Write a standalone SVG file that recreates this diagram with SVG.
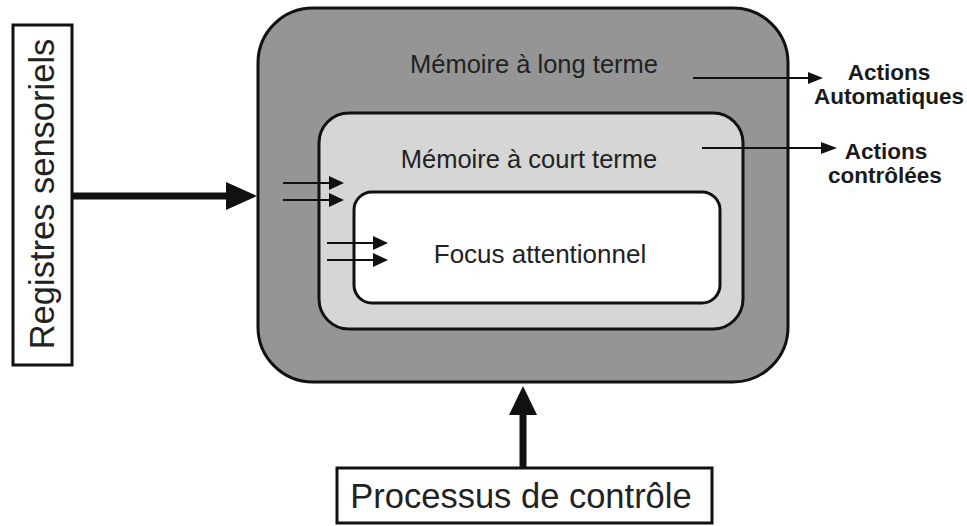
<svg xmlns="http://www.w3.org/2000/svg" width="967" height="526" viewBox="0 0 967 526">
<defs>
<style>
.box{stroke:#111;stroke-width:3}
.t{font-family:"Liberation Sans",Arial,sans-serif;fill:#222}
.b{font-family:"Liberation Sans",Arial,sans-serif;font-weight:bold;fill:#1a1a1a;font-size:22.5px;text-anchor:middle}
.thin{stroke:#111;stroke-width:2.2;fill:none}
.thick{stroke:#111;stroke-width:7;fill:none}
</style>
</defs>
<rect width="967" height="526" fill="#fff"/>
<g id="registres">
<rect class="box" x="13" y="25" width="59" height="340" fill="#fff"/>
<text class="t" font-size="34.5" text-anchor="middle" transform="translate(54,194) rotate(-90)">Registres sensoriels</text>
</g>
<g id="long-terme">
<rect class="box" x="258" y="8" width="530" height="374" rx="55" ry="55" fill="#959595"/>
<text class="t" font-size="25.5" x="534" y="73" text-anchor="middle">Mémoire à long terme</text>
</g>
<g id="court-terme">
<rect class="box" x="319" y="113" width="424" height="216" rx="30" ry="30" fill="#d6d6d6"/>
<text class="t" font-size="25.5" x="529" y="168" text-anchor="middle">Mémoire à court terme</text>
</g>
<g id="focus">
<rect class="box" x="354" y="192" width="366" height="111" rx="18" ry="18" fill="#fff"/>
<text class="t" font-size="26" x="540" y="263" text-anchor="middle">Focus attentionnel</text>
</g>
<g id="actions-auto">
<text class="b" x="889" y="80">Actions</text>
<text class="b" x="889" y="104">Automatiques</text>
</g>
<g id="actions-ctrl">
<text class="b" x="886" y="159">Actions</text>
<text class="b" x="885" y="183">contrôlées</text>
</g>
<g id="processus">
<rect class="box" x="337" y="468" width="375" height="55" fill="#fff"/>
<text class="t" font-size="34.5" x="521" y="508" text-anchor="middle">Processus de contrôle</text>
</g>
<g id="connectors">
<line class="thick" x1="72" y1="196" x2="228" y2="196"/>
<polygon points="226,182 257,196 226,210" fill="#111"/>
<line class="thick" x1="523" y1="468" x2="523" y2="412"/>
<polygon points="509,415 523,386 537,415" fill="#111"/>
<line class="thin" x1="693" y1="78" x2="810" y2="78"/>
<polygon points="808,72 823,78 808,84" fill="#111"/>
<line class="thin" x1="702" y1="148" x2="823" y2="148"/>
<polygon points="821,142 837,148 821,154" fill="#111"/>
<line class="thin" x1="283" y1="183" x2="332" y2="183"/>
<polygon points="329,176 344,183 329,190" fill="#111"/>
<line class="thin" x1="283" y1="200" x2="332" y2="200"/>
<polygon points="329,193 344,200 329,207" fill="#111"/>
<line class="thin" x1="327" y1="243" x2="376" y2="243"/>
<polygon points="373,236 388,243 373,250" fill="#111"/>
<line class="thin" x1="327" y1="260" x2="376" y2="260"/>
<polygon points="373,253 388,260 373,267" fill="#111"/>
</g>
</svg>
